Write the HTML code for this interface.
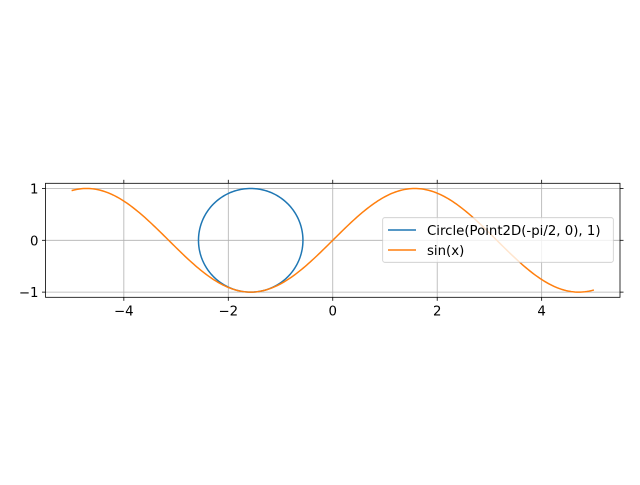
<!DOCTYPE html>
<html><head><meta charset="utf-8"><style>
body{margin:0;background:#fff}
text{font-family:"DejaVu Sans","Liberation Sans",sans-serif;font-size:13.3px;fill:#000}
</style></head><body>
<svg id="c" width="640" height="480" xmlns="http://www.w3.org/2000/svg"></svg>
<script>
const xTicks=[-4,-2,0,2,4];
const yTicks=[-1,0,1];
const xDomain=[-5.5,5.5];
const yDomain=[-1.1,1.1];
const circleCenter=[-Math.PI/2,0];
const circleRadius=[1];
const sinRange=[-5,5];
const legendLabels=["Circle(Point2D(-pi/2, 0), 1)","sin(x)"];
const colors=["#1f77b4","#ff7f0e"];
const L=45.5,R=620,T=183.3,B=297.3;
const sx=v=>L+(v-xDomain[0])/(xDomain[1]-xDomain[0])*(R-L);
const sy=v=>B-(v-yDomain[0])/(yDomain[1]-yDomain[0])*(B-T);
const svg=document.getElementById('c');const NS="http://www.w3.org/2000/svg";
function mk(tag,attrs,parent){const e=document.createElementNS(NS,tag);for(const k in attrs)e.setAttribute(k,attrs[k]);(parent||svg).appendChild(e);return e;}
xTicks.forEach(t=>{const e=mk('line',{x1:sx(t),x2:sx(t),y1:T,y2:B,stroke:'#b0b0b0','stroke-width':0.8});

});
yTicks.forEach(t=>{const e=mk('line',{x1:L,x2:R,y1:sy(t),y2:sy(t),stroke:'#b0b0b0','stroke-width':0.8});

});
let pc=[];for(let i=0;i<=200;i++){const a=i/200*2*Math.PI;pc.push(sx(circleCenter[0]+circleRadius[0]*Math.cos(a))+','+sy(circleCenter[1]+circleRadius[0]*Math.sin(a)));}
const c1=mk('polyline',{points:pc.join(' '),fill:'none',stroke:colors[0],'stroke-width':1.5});


let ps=[];for(let i=0;i<=300;i++){const x=sinRange[0]+i/300*(sinRange[1]-sinRange[0]);ps.push(sx(x)+','+sy(Math.sin(x)));}
const c2=mk('polyline',{points:ps.join(' '),fill:'none',stroke:colors[1],'stroke-width':1.5});


const fr=mk('rect',{x:L,y:T,width:R-L,height:B-T,fill:'none',stroke:'#000','stroke-width':0.8});


xTicks.forEach(t=>{mk('line',{x1:sx(t),x2:sx(t),y1:B,y2:B+3.5,stroke:'#000','stroke-width':0.8});mk('line',{x1:sx(t),x2:sx(t),y1:T,y2:T-3.5,stroke:'#000','stroke-width':0.8});
const e=mk('text',{x:sx(t),y:B+18,'text-anchor':'middle'});e.textContent=t<0?'−'+(-t):t;

});
yTicks.forEach(t=>{mk('line',{x1:L,x2:L-3.5,y1:sy(t),y2:sy(t),stroke:'#000','stroke-width':0.8});mk('line',{x1:R,x2:R+3.5,y1:sy(t),y2:sy(t),stroke:'#000','stroke-width':0.8});
const e=mk('text',{x:L-7,y:sy(t)+5,'text-anchor':'end'});e.textContent=t<0?'−'+(-t):t;

});
const lg=mk('rect',{x:382.7,y:217.7,width:230.6,height:44.6,rx:2,fill:'#fff','fill-opacity':0.8,stroke:'#ccc','stroke-width':0.8});


legendLabels.forEach((lab,i)=>{const y=230+i*20;
mk('line',{x1:388,x2:416,y1:y,y2:y,stroke:colors[i],'stroke-width':1.5});
const e=mk('text',{x:427,y:y+5});e.textContent=lab;

});
</script>
</body></html>
